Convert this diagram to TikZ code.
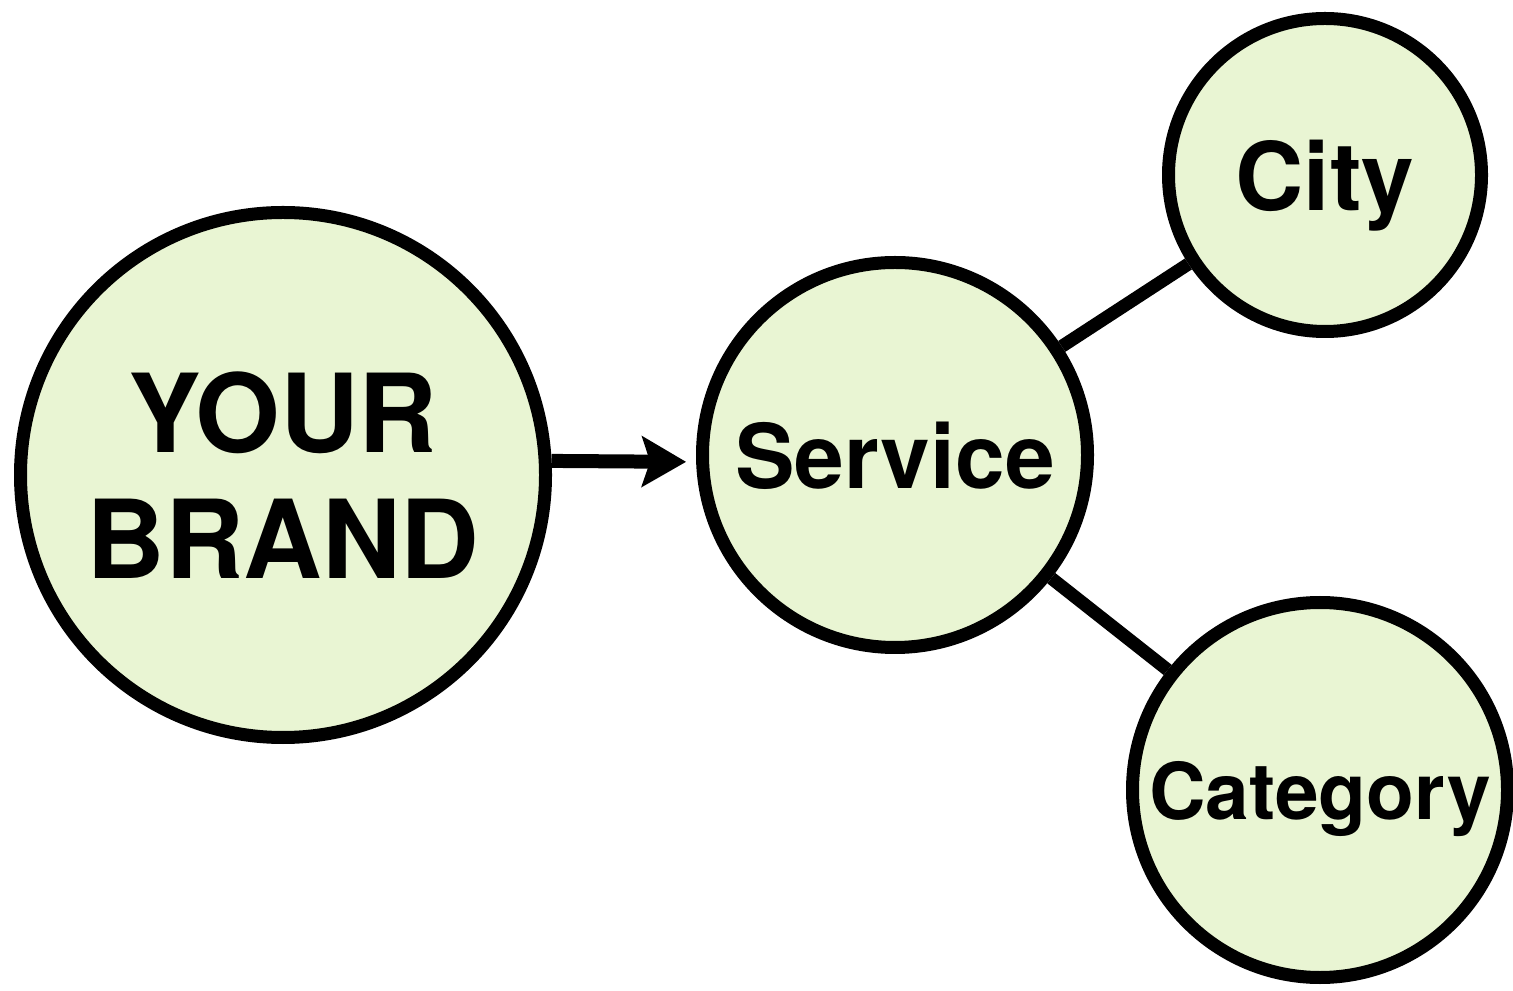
\documentclass[tikz,border=0pt]{standalone}
\usepackage{fontspec}
\setmainfont{TeX Gyre Heros}
\usetikzlibrary{arrows.meta}
\definecolor{leaf}{HTML}{E9F5D3}

\begin{document}
\begin{tikzpicture}[
	bubble/.style={circle, draw=black, line width=1.3mm, fill=leaf, inner sep=0pt, text depth=0pt},
	link/.style={line width=1.3mm},
]
	\useasboundingbox (0,0) rectangle (15.13,9.90);
	
	\node[bubble, minimum size=5.25cm, align=center, font=\fontsize{31}{36}\selectfont\bfseries] (brand) at (2.83,5.15) {YOUR\\BRAND};
	\node[bubble, minimum size=3.85cm, font=\fontsize{25.4}{30}\selectfont\bfseries] (service) at (8.95,5.35) {Service};
	\node[bubble, minimum size=3.13cm, font=\fontsize{26.9}{32}\selectfont\bfseries] (city) at (13.25,8.15) {City};
	\node[bubble, minimum size=3.75cm, font=\fontsize{22.3}{27}\selectfont\bfseries] (category) at (13.2,2.0) {Category};
	
	\draw[link] (service) -- (city);
	\draw[link] (service) -- (category);
	\draw[link, line width=1.4mm, -{Stealth[length=4.4mm, width=5mm, inset=0.8mm]}, shorten >=1mm] (brand.3) -- (service.182);
\end{tikzpicture}
\end{document}
